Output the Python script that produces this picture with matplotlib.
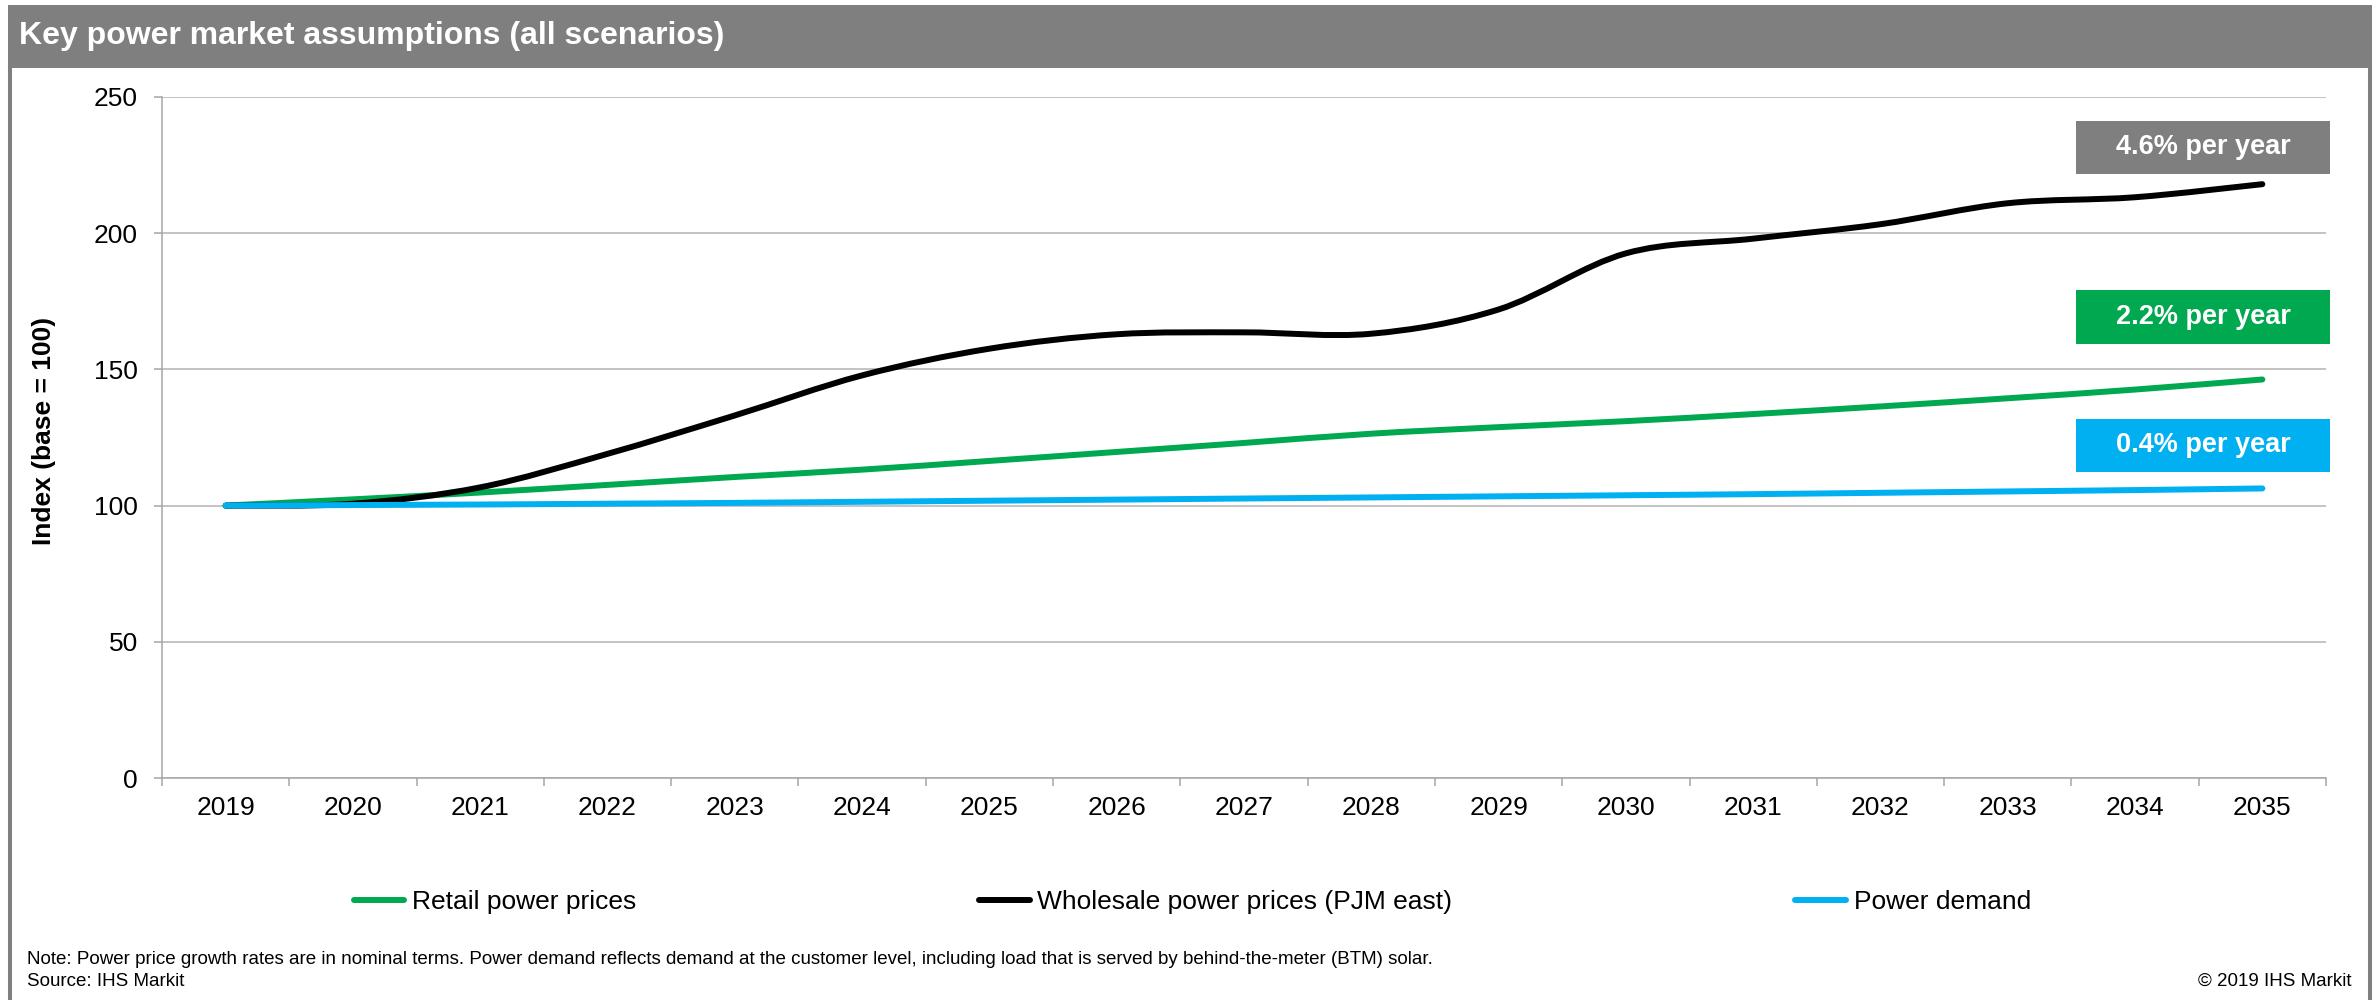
import numpy as np
import matplotlib.pyplot as plt
from matplotlib.path import Path
from matplotlib.patches import PathPatch, Rectangle
from matplotlib.lines import Line2D

plt.rcParams['font.family'] = ['Liberation Sans', 'DejaVu Sans']

# index values, 2019 = 100
years = [str(y) for y in range(2019, 2036)]
retail = [100, 102.3, 104.8, 107.6, 110.5, 113.2, 116.4, 119.7, 123.0, 126.4,
          128.8, 131.0, 133.6, 136.4, 139.4, 142.6, 146.3]
wholesale = [100, 100.7, 106.7, 119.0, 133.1, 147.8, 157.6, 162.9, 163.6, 163.1,
             172.0, 192.6, 198.0, 203.3, 211.0, 213.2, 218.0]
demand = [100, 100.2, 100.4, 100.7, 101.0, 101.4, 101.8, 102.2, 102.6, 103.0,
          103.4, 103.8, 104.2, 104.7, 105.2, 105.7, 106.3]

series_names = ['Retail power prices', 'Wholesale power prices (PJM east)', 'Power demand']
series_values = [retail, wholesale, demand]
series_colors = ['#00A84F', '#000000', '#00B0F0']

growth_labels = ['4.6% per year', '2.2% per year', '0.4% per year']
growth_colors = ['#7F7F7F', '#00A84F', '#00B0F0']

title = 'Key power market assumptions (all scenarios)'
note = ('Note: Power price growth rates are in nominal terms. Power demand reflects demand at the '
        'customer level, including load that is served by behind-the-meter (BTM) solar.')
source = 'Source: IHS Markit'
copyright_text = '\u00a9 2019 IHS Markit'

W, H = 2375, 1000


def fx(px):
    return px / W


def fy(py):
    return 1 - py / H


def smooth_path(xs, ys):
    # cubic bezier through every point, like a spreadsheet "smoothed line"
    pts = np.column_stack([xs, ys]).astype(float)
    ext = np.vstack([pts[0], pts, pts[-1]])
    verts = [pts[0]]
    codes = [Path.MOVETO]
    for i in range(len(pts) - 1):
        p0, p1, p2, p3 = ext[i], ext[i + 1], ext[i + 2], ext[i + 3]
        verts += [p1 + (p2 - p0) / 6, p2 - (p3 - p1) / 6, p2]
        codes += [Path.CURVE4] * 3
    return Path(verts, codes)


fig = plt.figure(figsize=(W / 100, H / 100), dpi=100)

# header bar and frame
fig.patches.append(Rectangle((fx(8), fy(68)), fx(2364), 63 / H, transform=fig.transFigure,
                             facecolor='#7F7F7F', edgecolor='none'))
fig.text(fx(19), fy(36), title, color='white', fontsize=23, fontweight='bold', va='center', ha='left')
for xb in (9.5, 2370):
    fig.add_artist(Line2D([fx(xb), fx(xb)], [0, fy(68)], transform=fig.transFigure,
                          color='#7F7F7F', lw=2.9))

ax = fig.add_axes([fx(162), fy(778), fx(2326 - 162), (778 - 97) / H])
x = np.arange(len(years))
for vals, color in zip(series_values, series_colors):
    ax.add_patch(PathPatch(smooth_path(x, vals), fill=False, edgecolor=color, lw=4.3,
                           capstyle='round', joinstyle='round', zorder=3))

ax.set_xlim(-0.5, len(years) - 0.5)
ax.set_ylim(0, 250)
ax.set_yticks(range(0, 251, 50))
ax.set_xticks(x)
ax.set_xticklabels(years)
ax.set_xticks(np.arange(-0.5, len(years), 1), minor=True)
ax.grid(axis='y', color='#B3B3B3', lw=1.1, zorder=0)
ax.set_axisbelow(True)
for side in ('top', 'right'):
    ax.spines[side].set_visible(False)
for side in ('left', 'bottom'):
    ax.spines[side].set_color('#A6A6A6')
    ax.spines[side].set_linewidth(1.1)
ax.tick_params(axis='x', which='major', length=0, pad=13, labelsize=19)
ax.tick_params(axis='x', which='minor', length=5.8, color='#A6A6A6', width=1.1)
ax.tick_params(axis='y', length=5.8, color='#A6A6A6', width=1.1, pad=11.5, labelsize=19)

fig.text(fx(44), fy(431), 'Index (base = 100)', rotation=90, fontsize=19, fontweight='bold',
         ha='center', va='center')

# growth-rate tags
tag_rows = [(121, 174), (290, 344), (419, 472)]
for label, color, (top, bottom) in zip(growth_labels, growth_colors, tag_rows):
    fig.patches.append(Rectangle((fx(2076), fy(bottom)), fx(2330 - 2076), (bottom - top) / H,
                                 transform=fig.transFigure, facecolor=color, edgecolor='none'))
    fig.text(fx(2203), fy((top + bottom) / 2), label, color='white', fontsize=19.5,
             fontweight='bold', ha='center', va='center')

handles = [Line2D([], [], color=c, lw=4.3, solid_capstyle='round') for c in series_colors]
fig.legend(handles, series_names, loc='center left', bbox_to_anchor=(fx(354), fy(902)),
           ncol=3, frameon=False, fontsize=19, handlelength=1.9, handletextpad=0.3,
           columnspacing=13.0, borderpad=0, borderaxespad=0)

fig.text(fx(27), fy(960), note, fontsize=13.5, va='center', ha='left')
fig.text(fx(27), fy(982), source, fontsize=13.5, va='center', ha='left')
fig.text(fx(2352), fy(981), copyright_text, fontsize=13.5, va='center', ha='right')

fig.savefig('out.png', dpi=100)
